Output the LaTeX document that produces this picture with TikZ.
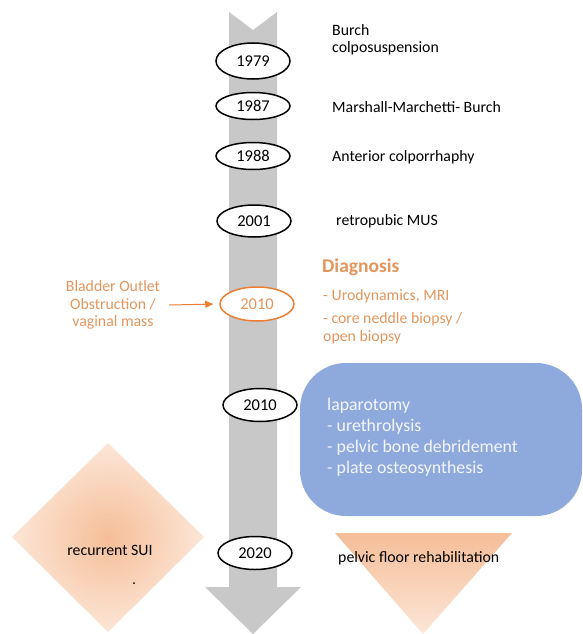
\documentclass[tikz,border=0pt]{standalone}
\usepackage{fontspec}
\setmainfont{Carlito}
\usetikzlibrary{arrows.meta,shapes.geometric}
\definecolor{grayarrow}{HTML}{C8C8C8}
\definecolor{acc}{HTML}{ED7D31}
\definecolor{orangetext}{HTML}{E2955C}
\definecolor{bluefill}{HTML}{8EA9DB}
\definecolor{peachdark}{HTML}{F5BE98}
\definecolor{peachmid}{HTML}{F7CBAB}
\definecolor{peachlight}{HTML}{FCE6D7}
\definecolor{bluetext}{HTML}{F4F6FB}
\begin{document}
\begin{tikzpicture}[x=1pt,y=-1pt,
  year/.style={ellipse, draw=black, line width=1.5pt, fill=white, inner sep=0pt,
    minimum width=74pt, font=\fontsize{16.5}{18}\selectfont},
  yearorange/.style={year, draw=acc, text=orangetext},
  label/.style={anchor=west, align=left, inner sep=0pt, font=\fontsize{15.8}{17}\selectfont},
  orangelabel/.style={label, text=orangetext},
  bluetxt/.style={anchor=west, align=left, inner sep=0pt, text=bluetext,
    font=\fontsize{17.8}{21}\selectfont}
]
\useasboundingbox (0,0) rectangle (582,634);

% timeline arrow
\fill[grayarrow] (229,12) -- (253,30) -- (277,12) -- (277,587) -- (301,587)
  -- (253,634) -- (205,587) -- (229,587) -- cycle;

% peach shapes
\shade[inner color=peachdark, outer color=peachlight]
  (108,443) -- (204,537) -- (108,632) -- (12,537) -- cycle;
\shade[top color=peachdark, bottom color=peachlight]
  (335,533) -- (512,533) -- (423,634) -- cycle;
\fill (134,583) circle (1pt);

% blue box
\node[fill=bluefill, rounded corners=46pt, minimum width=282pt, minimum height=153pt,
  inner sep=0pt] (lap) at (441,439.5) {};
\node[bluetxt] (laptxt) at (327,437) {laparotomy\\- urethrolysis\\- pelvic bone debridement\\- plate osteosynthesis};

% years
\node[year, minimum height=36pt] (y1979) at (253,61) {1979};
\node[year, minimum height=27pt] (y1987) at (253,106) {1987};
\node[year, minimum height=27pt] (y1988) at (253,156) {1988};
\node[year, minimum height=32pt] (y2001) at (254,221) {2001};
\node[yearorange, minimum height=34pt] (y2010a) at (257,304) {2010};
\node[year, minimum height=33pt] (y2010b) at (260,405) {2010};
\node[year, minimum height=33pt] (y2020) at (255,553) {2020};

% right labels
\node[label] (burch) at (332,40) {Burch\\colposuspension};
\node[label] (mmk) at (332,107) {Marshall-Marchetti- Burch};
\node[label] (ant) at (332,157) {Anterior colporrhaphy};
\node[label] (mus) at (336,221) {retropubic MUS};

\node[orangelabel, font=\bfseries\fontsize{19.5}{22}\selectfont] (diag) at (322,267) {Diagnosis};
\node[orangelabel] (uro) at (323,296) {- Urodynamics, MRI};
\node[orangelabel, font=\fontsize{15.8}{18}\selectfont] (biopsy) at (323,328) {- core neddle biopsy /\\open biopsy};

\node[align=center, inner sep=0pt, text=orangetext, font=\fontsize{15.8}{17.5}\selectfont]
  (boo) at (113,305) {Bladder Outlet\\Obstruction /\\vaginal mass};
\draw[acc, line width=1pt, -{Triangle[length=8pt,width=7pt]}, shorten >=6pt]
  ([xshift=9pt]boo.east) -- (y2010a.west);

\node[label] (pfr) at (338,558) {pelvic floor rehabilitation};
\node[inner sep=0pt, font=\fontsize{15.8}{17}\selectfont] (sui) at (110,550) {recurrent SUI};
\end{tikzpicture}
\end{document}
